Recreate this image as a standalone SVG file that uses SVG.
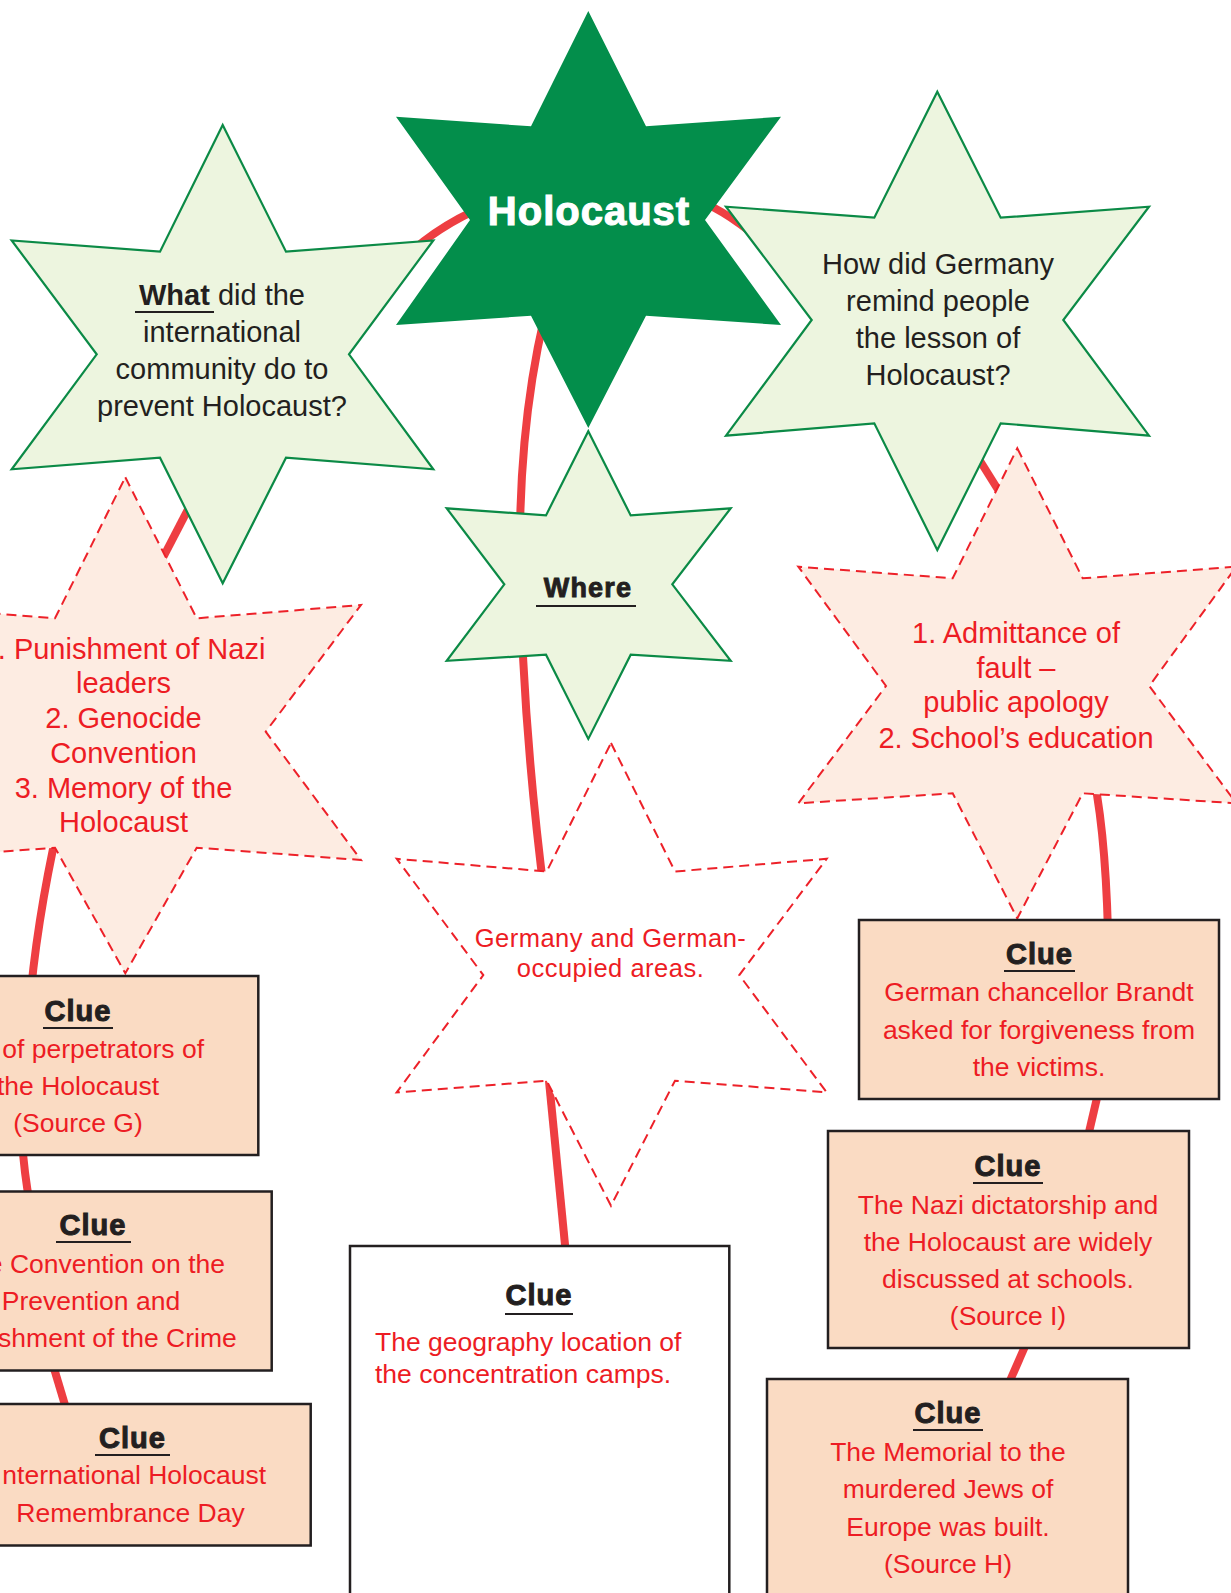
<svg xmlns="http://www.w3.org/2000/svg" width="1231" height="1593" viewBox="0 0 1231 1593">
  <style>
    .link { fill: none; stroke: #ee3e42; stroke-width: 8; stroke-linecap: butt; }
    .core { fill: #038e4b; }
    .question { fill: #edf5df; stroke: #0b8a46; stroke-width: 2.2; stroke-linejoin: miter; }
    .answer { fill: #fdece2; stroke: #ed2129; stroke-width: 2; stroke-dasharray: 10 6; }
    .answer-plain { fill: #ffffff; stroke: #ed2129; stroke-width: 2; stroke-dasharray: 10 6; }
    .clue { fill: #fadbc3; stroke: #231f20; stroke-width: 2.5; }
    .clue-blank { fill: #ffffff; stroke: #231f20; stroke-width: 2.5; }
    text { font-family: "Liberation Sans", Arial, Helvetica, sans-serif; }
    .title { font-size: 40px; font-weight: bold; fill: #ffffff; stroke: #ffffff; stroke-width: 1.1; letter-spacing: 1px; }
    .q { font-size: 29px; fill: #231f20; text-anchor: middle; }
    .qb { font-weight: bold; }
    .heavy { font-size: 27px; font-weight: bold; fill: #231f20; stroke: #231f20; stroke-width: 0.9; letter-spacing: 1.2px; text-anchor: middle; }
    .a { font-size: 29px; fill: #ed1c24; text-anchor: middle; }
    .a-small { font-size: 25.5px; fill: #ed1c24; text-anchor: middle; letter-spacing: 0.5px; }
    .ct { font-size: 29px; font-weight: bold; fill: #231f20; stroke: #231f20; stroke-width: 1; letter-spacing: 1px; text-anchor: middle; }
    .bt { font-size: 26.5px; fill: #ed1c24; text-anchor: middle; }
    .bt-end { font-size: 26.5px; fill: #ed1c24; text-anchor: end; }
    .bt-start { font-size: 26.5px; fill: #ed1c24; text-anchor: start; }
    .ul { stroke: #231f20; stroke-width: 2; }
  </style>

  <rect x="0" y="0" width="1231" height="1593" fill="#ffffff"/>

  <!-- connectors, drawn beneath the nodes -->
  <g id="connectors">
    <path class="link" d="M500,200 Q440,222 400,262"/>
    <path class="link" d="M224,440 L141,600"/>
    <path class="link" d="M64,800 Q40,900 31,990"/>
    <path class="link" d="M22,1140 Q24,1172 30,1205"/>
    <path class="link" d="M50,1355 L68,1415"/>
    <path class="link" d="M560,260 Q522,380 520,530"/>
    <path class="link" d="M520,560 Q522,720 545,900"/>
    <path class="link" d="M545,1040 Q556,1150 566,1255"/>
    <path class="link" d="M690,198 Q720,206 760,240"/>
    <path class="link" d="M942,400 L1012,512"/>
    <path class="link" d="M1090,760 Q1105,820 1108,932"/>
    <path class="link" d="M1100,1085 L1086,1145"/>
    <path class="link" d="M1030,1335 L1005,1392"/>
  </g>

  <!-- central topic -->
  <g id="holocaust">
    <polygon class="core" points="588.3,11 646,126.3 781,116.7 705,220 781,325 646,315.7 588.3,428 531,315.7 396,325 470,220 396,116.7 531,126.3"/>
    <text class="title" x="589" y="225" text-anchor="middle">Holocaust</text>
  </g>

  <!-- question: international community -->
  <g id="q-what">
    <polygon class="question" points="222.7,125 286,251.7 433.3,240.5 349,354.3 433.3,469.3 286,457.7 222.7,583.3 160,457.7 11.7,469.3 96.7,354.3 11.7,240.5 160,251.7"/>
    <text class="q" x="222" y="305"><tspan class="qb">What</tspan> did the</text>
    <line class="ul" x1="135" y1="312" x2="214" y2="312"/>
    <text class="q" x="222" y="342">international</text>
    <text class="q" x="222" y="379">community do to</text>
    <text class="q" x="222" y="416">prevent Holocaust?</text>
  </g>

  <!-- question: Germany -->
  <g id="q-how">
    <polygon class="question" points="937.3,91.7 1000.7,217.7 1149,206.7 1063.3,320 1149,435.7 1000.7,423.3 937.3,550 874.3,423.3 726,435.7 811.7,320 726,206.7 874.3,217.7"/>
    <text class="q" x="938" y="274">How did Germany</text>
    <text class="q" x="938" y="311">remind people</text>
    <text class="q" x="938" y="348">the lesson of</text>
    <text class="q" x="938" y="385">Holocaust?</text>
  </g>

  <!-- question: where -->
  <g id="q-where">
    <polygon class="question" points="588.3,431.2 630.7,515.4 730.7,508.3 672.3,584.3 730.7,660.8 630.7,654.7 588.3,738.9 546,654.7 446.7,660.8 504.3,584.3 446.7,508.3 546,515.4"/>
    <text class="heavy" x="588" y="597">Where</text>
    <line class="ul" x1="536" y1="606" x2="636" y2="606"/>
  </g>

  <!-- answer: international measures -->
  <g id="a-international">
    <polygon class="answer" points="125.3,477.3 196.7,618.3 361,605 265.7,731.7 361,860 196.7,847.7 125.3,973.3 55,847.7 -110.4,860 -15,731.7 -110.4,605 55,618.3"/>
    <text class="a" x="123.5" y="659">1. Punishment of Nazi</text>
    <text class="a" x="123.5" y="693">leaders</text>
    <text class="a" x="123.5" y="728">2. Genocide</text>
    <text class="a" x="123.5" y="763">Convention</text>
    <text class="a" x="123.5" y="798">3. Memory of the</text>
    <text class="a" x="123.5" y="832">Holocaust</text>
  </g>

  <!-- answer: location -->
  <g id="a-where">
    <polygon class="answer-plain" points="611,743 675,871.5 826.7,858.8 739.3,975.1 826.7,1092.4 675,1080.7 611,1205.7 546.7,1080.7 396.7,1092.4 483.3,975.1 396.7,858.8 546.7,871.5"/>
    <text class="a-small" x="610.5" y="946.5">Germany and German-</text>
    <text class="a-small" x="610.5" y="977">occupied areas.</text>
  </g>

  <!-- answer: Germany -->
  <g id="a-germany">
    <polygon class="answer" points="1017.3,448.3 1082.7,578.3 1236.3,566.7 1149.3,686 1236.3,803.3 1082.7,793.3 1017.3,918.3 952.7,793.3 798.3,803.3 886,686 798.3,566.7 952.7,578.3"/>
    <text class="a" x="1016" y="643">1. Admittance of</text>
    <text class="a" x="1016" y="678">fault –</text>
    <text class="a" x="1016" y="712">public apology</text>
    <text class="a" x="1016" y="748">2. School’s education</text>
  </g>

  <!-- clue cards, left column -->
  <g id="clue-trials">
    <rect class="clue" x="-10" y="976" width="268.3" height="179"/>
    <text class="ct" x="78" y="1021">Clue</text>
    <line class="ul" x1="43" y1="1028" x2="113" y2="1028"/>
    <text class="bt-end" x="204" y="1058">of perpetrators of</text>
    <text class="bt" x="78" y="1095">the Holocaust</text>
    <text class="bt" x="78" y="1132">(Source G)</text>
  </g>

  <g id="clue-convention">
    <rect class="clue" x="-10" y="1191.5" width="281.7" height="179"/>
    <text class="ct" x="93" y="1235">Clue</text>
    <line class="ul" x1="56" y1="1242" x2="131" y2="1242"/>
    <text class="bt-end" x="225" y="1273">e Convention on the</text>
    <text class="bt" x="91" y="1310">Prevention and</text>
    <text class="bt-end" x="236.7" y="1347">shment of the Crime</text>
  </g>

  <g id="clue-remembrance">
    <rect class="clue" x="-10" y="1404" width="320.7" height="141.5"/>
    <text class="ct" x="132.5" y="1448">Clue</text>
    <line class="ul" x1="95" y1="1455" x2="170" y2="1455"/>
    <text class="bt-end" x="266" y="1484">nternational Holocaust</text>
    <text class="bt" x="130.5" y="1522">Remembrance Day</text>
  </g>

  <!-- clue card, centre -->
  <g id="clue-camps">
    <rect class="clue-blank" x="350" y="1246" width="379.3" height="360"/>
    <text class="ct" x="539" y="1305">Clue</text>
    <line class="ul" x1="505" y1="1314" x2="573" y2="1314"/>
    <text class="bt-start" x="375" y="1351">The geography location of</text>
    <text class="bt-start" x="375" y="1383">the concentration camps.</text>
  </g>

  <!-- clue cards, right column -->
  <g id="clue-brandt">
    <rect class="clue" x="859" y="920" width="360" height="179"/>
    <text class="ct" x="1039.5" y="964">Clue</text>
    <line class="ul" x1="1004" y1="971" x2="1075" y2="971"/>
    <text class="bt" x="1039" y="1001">German chancellor Brandt</text>
    <text class="bt" x="1039" y="1039">asked for forgiveness from</text>
    <text class="bt" x="1039" y="1076">the victims.</text>
  </g>

  <g id="clue-schools">
    <rect class="clue" x="828" y="1131" width="361" height="217"/>
    <text class="ct" x="1008" y="1176">Clue</text>
    <line class="ul" x1="973" y1="1183" x2="1043" y2="1183"/>
    <text class="bt" x="1008" y="1214">The Nazi dictatorship and</text>
    <text class="bt" x="1008" y="1251">the Holocaust are widely</text>
    <text class="bt" x="1008" y="1288">discussed at schools.</text>
    <text class="bt" x="1008" y="1325">(Source I)</text>
  </g>

  <g id="clue-memorial">
    <rect class="clue" x="767" y="1379" width="361" height="240"/>
    <text class="ct" x="948" y="1423">Clue</text>
    <line class="ul" x1="913" y1="1430" x2="983" y2="1430"/>
    <text class="bt" x="948" y="1461">The Memorial to the</text>
    <text class="bt" x="948" y="1498">murdered Jews of</text>
    <text class="bt" x="948" y="1536">Europe was built.</text>
    <text class="bt" x="948" y="1573">(Source H)</text>
  </g>
</svg>
